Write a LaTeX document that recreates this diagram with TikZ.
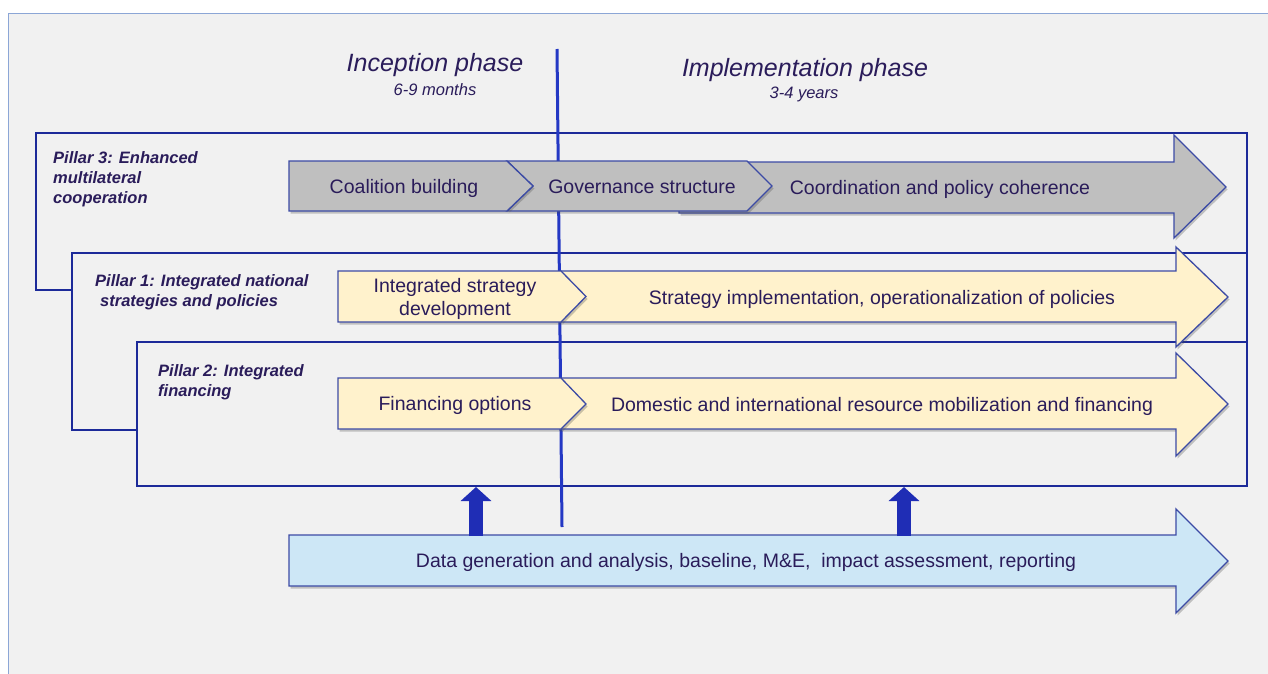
\documentclass[tikz,border=0pt]{standalone}
\usepackage{fontspec}
\setmainfont{Liberation Sans}
\usetikzlibrary{arrows.meta,shadows}
\definecolor{bggray}{HTML}{F1F1F1}
\definecolor{frameline}{HTML}{8CA6D6}
\definecolor{boxblue}{HTML}{1C2A99}
\definecolor{vline}{HTML}{2438C4}
\definecolor{chevline}{HTML}{3C4BA5}
\definecolor{txt}{HTML}{2A1C5A}
\definecolor{grayfill}{HTML}{BFBFBF}
\definecolor{yellowfill}{HTML}{FFF2CC}
\definecolor{bluefill}{HTML}{CDE7F6}
\definecolor{uparrowc}{HTML}{1F2DB5}
\begin{document}
\begin{tikzpicture}[x=1pt,y=-1pt,
  pbox/.style={draw=boxblue,line width=2.5pt,fill=bggray},
  shp/.style={draw=chevline,line width=1.3pt,line join=miter,
     drop shadow={shadow xshift=1.5pt,shadow yshift=-2.5pt,opacity=0.3,fill=black!70}},
  graysh/.style={shp,fill=grayfill},
  yelsh/.style={shp,fill=yellowfill},
  blush/.style={shp,fill=bluefill},
  lbl/.style={font=\fontsize{19.5}{23}\selectfont,text=txt,inner sep=0pt},
  pil/.style={font=\fontsize{16.5}{20}\selectfont\bfseries\itshape,text=txt,inner sep=0pt,align=left,anchor=north west},
  ttl/.style={font=\fontsize{25}{30}\selectfont\itshape,text=txt,inner sep=0pt,anchor=base},
  sub/.style={font=\fontsize{16.5}{20}\selectfont\itshape,text=txt,inner sep=0pt,anchor=base},
  uparr/.style={draw=uparrowc,line width=14pt,-{Triangle[width=30pt,length=14pt]}}
]
\useasboundingbox (0,0) rectangle (1268,674);
% background
\fill[white] (0,0) rectangle (1268,674);
\fill[bggray] (8,14) rectangle (1268,674);
\draw[frameline,line width=1pt] (8,674) -- (8,14) -- (1268,14);

% titles
\node[ttl] (incep) at (435,72) {Inception phase};
\node[sub] (incepd) at (435,96) {6-9 months};
\node[ttl] (impl) at (805,77) {Implementation phase};
\node[sub] (impld) at (804,99) {3-4 years};

% pillar boxes
\path[pbox] (36,133) rectangle (1247,290);
\path[pbox] (72,253) rectangle (1247,430);
\path[pbox] (137,342) rectangle (1247,486);

% phase divider
\coordinate (vtop) at (557,49);
\coordinate (vbot) at (562,527);
\draw[vline,line width=3pt] (vtop) -- (vbot);

% Pillar 3 shapes
\path[graysh] (679,162) -- (1174,162) -- (1174,135) -- (1226,187) -- (1174,238) -- (1174,213) -- (679,213) -- cycle;
\path[graysh] (507,161) -- (747,161) -- (772,186) -- (747,211) -- (507,211) -- (533,186) -- cycle;
\path[graysh] (289,161) -- (507,161) -- (533,186) -- (507,211) -- (289,211) -- cycle;

% Pillar 1 shapes
\path[yelsh] (561,271) -- (1176,271) -- (1176,247) -- (1228,297) -- (1176,347) -- (1176,322) -- (561,322) -- cycle;
\path[yelsh] (338,271) -- (561,271) -- (586,296.5) -- (561,322) -- (338,322) -- cycle;

% Pillar 2 shapes
\path[yelsh] (561,378) -- (1176,378) -- (1176,353) -- (1228,404) -- (1176,456) -- (1176,429) -- (561,429) -- cycle;
\path[yelsh] (338,378) -- (561,378) -- (586,404) -- (561,429) -- (338,429) -- cycle;

% Data arrow
\path[blush] (289,535) -- (1176,535) -- (1176,509) -- (1228,561) -- (1176,613) -- (1176,586) -- (289,586) -- cycle;

% up arrows
\coordinate (ua1s) at (476,536);
\coordinate (ua1e) at (476,487);
\coordinate (ua2s) at (904,536);
\coordinate (ua2e) at (904,487);
\draw[uparr] (ua1s) -- (ua1e);
\draw[uparr] (ua2s) -- (ua2e);

% pillar labels
\node[pil] (p3) at (53,151) {Pillar 3: Enhanced\\multilateral\\cooperation};
\node[pil] (p1) at (95,274) {Pillar 1: Integrated national\\\hspace*{5pt}strategies and policies};
\node[pil] (p2) at (158,364) {Pillar 2: Integrated\\financing};

% shape texts
\node[lbl,anchor=base] (coal) at (404,193) {Coalition building};
\node[lbl,anchor=base] (gov) at (642,193) {Governance structure};
\node[lbl,anchor=base] (coord) at (940,194) {Coordination and policy coherence};
\node[lbl,anchor=north,align=center] (isd) at (455,278) {Integrated strategy\\development};
\node[lbl,anchor=base] (simp) at (882,304) {Strategy implementation, operationalization of policies};
\node[lbl,anchor=base] (fin) at (455,410) {Financing options};
\node[lbl,anchor=base] (dom) at (882,411) {Domestic and international resource mobilization and financing};
\node[lbl,anchor=base] (data) at (746,567) {Data generation and analysis, baseline, M\&E,\ \ impact assessment, reporting};
\end{tikzpicture}
\end{document}
